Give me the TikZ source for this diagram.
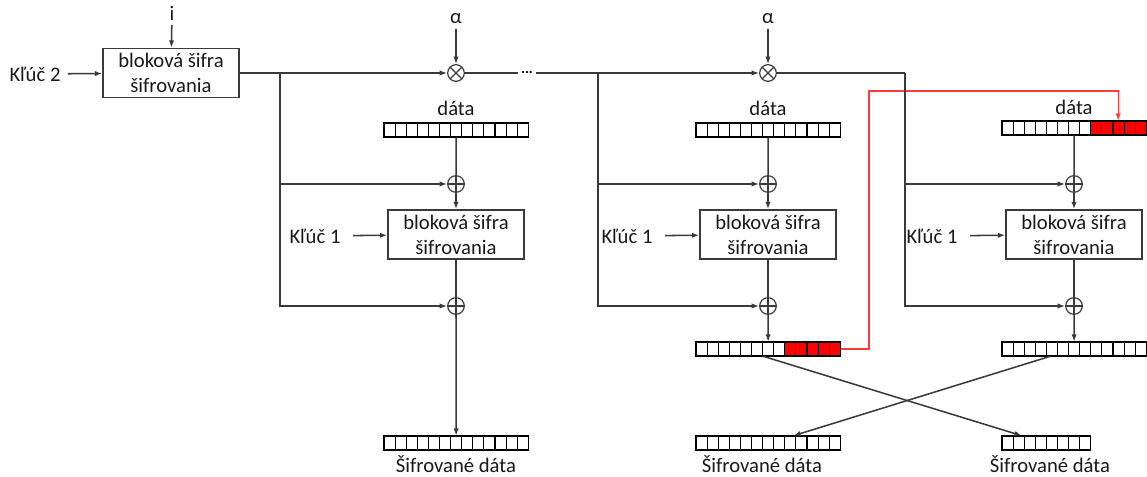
\documentclass[tikz,border=0pt]{standalone}
\usepackage{fontspec}
\setmainfont{Carlito}
\usetikzlibrary{arrows.meta,fit,calc}
\definecolor{ln}{HTML}{3A3A3A}
\definecolor{redcell}{HTML}{FF0000}
\definecolor{redline}{HTML}{FF3B3B}
\tikzset{
 txt/.style={font=\fontsize{15.5}{18.75}\selectfont, text=black!90},
 cipher/.style={txt, draw=ln, line width=1.1pt, minimum width=102pt, minimum height=36.75pt, inner sep=0, align=center},
 mulop/.style={draw=ln, circle, line width=0.9pt, minimum size=12.5pt, inner sep=0},
 oplus/.style={mulop, path picture={\draw[ln, line width=0.9pt] (path picture bounding box.north) -- (path picture bounding box.south) (path picture bounding box.west) -- (path picture bounding box.east);}},
 otimes/.style={mulop, path picture={\draw[ln, line width=0.9pt] (path picture bounding box.north west) -- (path picture bounding box.south east) (path picture bounding box.north east) -- (path picture bounding box.south west);}},
 conn/.style={draw=ln, line width=1.15pt},
 arr/.style={conn, -{Latex[length=5.5pt,width=4pt]}},
 redarr/.style={draw=redline, line width=0.9pt, -{Latex[length=5.5pt,width=4pt]}},
 cell/.style={draw=black, line width=0.8pt, fill=white},
 rcell/.style={draw=black, line width=0.8pt, fill=redcell},
}
\newcommand\datablk[4]{%
  \foreach \k in {1,...,#4}{\draw[cell] ({#2+(\k-1)*11.1},#3) rectangle ++(11.1,14);}
  \node[inner sep=0, fit={(#2,#3) ({#2+#4*11.1},{#3+14})}] (#1) {};
}
\newcommand\redpart[2]{%
  \foreach \k in {9,...,13}{\draw[rcell] ({#1+(\k-1)*11.1},#2) rectangle ++(11.1,14);}
}
\begin{document}
\begin{tikzpicture}[x=0.75pt,y=-0.75pt]
\useasboundingbox (0,0) rectangle (1147,477);

% top stage
\node[txt] (k2) at (35,74) {Kľúč 2};
\node[cipher] (b0) at (171,73) {bloková šifra\\šifrovania};
\node[txt] (iin) at (172,13) {i};
\draw[arr] (iin) -- (b0);
\draw[arr, shorten <=2pt] (k2) -- (b0);

\node[otimes] (x1) at (456,73) {};
\node[txt] (a1) at (456,19) {α};
\draw[arr] (a1) -- (x1);
\node[otimes] (x2) at (768,73) {};
\node[txt] (a2) at (768,19) {α};
\draw[arr] (a2) -- (x2);

\coordinate (j1) at (280,73);
\coordinate (j2) at (598,73);
\coordinate (j3) at (905,73);
\node[inner sep=0, outer sep=2pt, font=\bfseries\fontsize{11}{11}\selectfont] (dots) at (527,73) {...};

% data blocks
\node[txt] (d1) at (456,108) {dáta};
\node[txt] (d2) at (768,108) {dáta};
\node[txt] (d3) at (1074,107) {dáta};
\datablk{c1t}{384}{123}{13}
\datablk{c2t}{696}{123}{13}
\datablk{c3t}{1002}{121}{13}
\redpart{1002}{121}
\datablk{c2b}{696}{342}{13}
\redpart{696}{342}
\datablk{c3b}{1002}{342}{13}
\datablk{f1}{384}{436}{13}
\datablk{f2}{696}{436}{13}
\datablk{f3}{1002}{436}{8}

% red feedback
\coordinate (r1) at (869,91);
\draw[redarr] (c2b.east) -| (r1) -| ($(c3t.north west)!0.804!(c3t.north east)$);

% top line
\draw[arr] (b0) -- (x1);
\draw[conn] (x1) -- (dots);
\draw[arr] (dots) -- (x2);
\draw[conn] (x2) -- (j3);

% columns
\node[oplus] (p1a) at (456,184) {};
\node[oplus] (p1b) at (456,306) {};
\node[cipher] (b1) at (456,234.5) {bloková šifra\\šifrovania};
\node[txt] (k1a) at (315,236) {Kľúč 1};

\node[oplus] (p2a) at (768,184) {};
\node[oplus] (p2b) at (768,306) {};
\node[cipher] (b2) at (768,234.5) {bloková šifra\\šifrovania};
\node[txt] (k1b) at (627,236) {Kľúč 1};

\node[oplus] (p3a) at (1074,184) {};
\node[oplus] (p3b) at (1074,306) {};
\node[cipher] (b3) at (1074,234.5) {bloková šifra\\šifrovania};
\node[txt] (k1c) at (932,236) {Kľúč 1};

\foreach \c/\j in {1/j1,2/j2,3/j3}{
  \draw[arr] (\j) |- (p\c a);
  \draw[arr] (\j) |- (p\c b);
  \draw[conn] (c\c t) -- (p\c a);
  \draw[arr] (p\c a) -- (b\c);
  \draw[conn] (b\c) -- (p\c b);
  \draw[arr, shorten <=6pt] (k1\ifcase\c\or a\or b\or c\fi) -- (b\c);
}
\draw[arr] (p1b) -- (f1);
\draw[arr] (p2b) -- (c2b);
\draw[arr] (p3b) -- (c3b);

% crossing
\draw[arr] ($(c2b.south west)!0.465!(c2b.south east)$) -- ($(f3.north west)!0.225!(f3.north east)$);
\draw[arr] ($(c3b.south west)!0.336!(c3b.south east)$) -- ($(f2.north west)!0.674!(f2.north east)$);

\node[txt] (t1) at (456,464) {Šifrované dáta};
\node[txt] (t2) at (762,464) {Šifrované dáta};
\node[txt] (t3) at (1050,464) {Šifrované dáta};
\end{tikzpicture}
\end{document}
